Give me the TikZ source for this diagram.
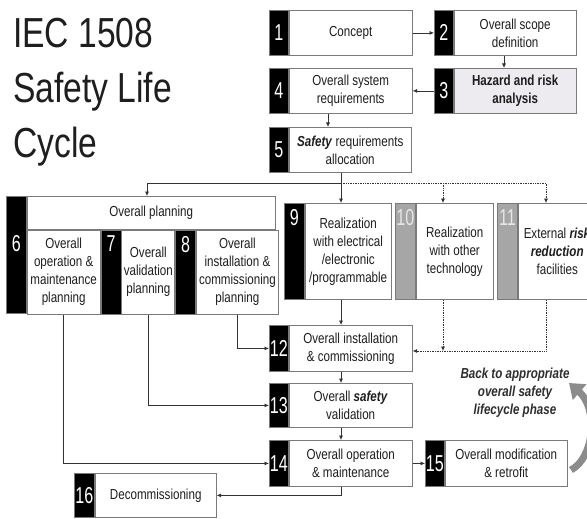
\documentclass[tikz,border=0pt]{standalone}
\usepackage{fontspec}
\setmainfont{Liberation Sans}[FakeStretch=0.8]
\newfontfamily\stripfont{Liberation Sans}[FakeStretch=0.7]
\usetikzlibrary{arrows.meta}

\definecolor{boxgray}{HTML}{7A7A7A}
\definecolor{linegray}{HTML}{333333}
\definecolor{textdark}{HTML}{1E1E1E}
\definecolor{hazfill}{HTML}{EDEBEF}
\definecolor{stripgray}{HTML}{A6A6A6}
\definecolor{numlight}{HTML}{E6E6E6}
\definecolor{backgray}{HTML}{2E2E2E}
\definecolor{arcgray}{HTML}{8C8C8C}

\newcommand{\phasefont}{\fontsize{14.5}{18}\selectfont}
\newcommand{\numberfont}{\stripfont\fontsize{23}{23}\selectfont}

\tikzset{
  phase/.style={draw=boxgray, line width=0.8pt, fill=white, align=center,
    inner sep=1pt, font=\phasefont, text=textdark, anchor=west},
  strip/.style={draw=boxgray, line width=0.8pt, fill=black, text=white,
    inner sep=0pt, font=\numberfont, anchor=north west},
  greystrip/.style={strip, fill=stripgray, text=numlight},
  numtop/.style={anchor=north, inner sep=0pt, font=\numberfont, text=white},
  conn/.style={draw=linegray, line width=0.7pt, -{Latex[length=4.5pt,width=4pt]}},
  dconn/.style={conn, densely dotted},
}

\begin{document}
\begin{tikzpicture}[x=1pt, y=-1pt]
\useasboundingbox (0,0) rectangle (587,519);
\fill[white] (0,0) rectangle (587,519);
\clip (0,0) rectangle (587,519);

% title
\node[anchor=north west, inner sep=0pt, align=left, text=textdark,
  font=\fontsize{42}{55}\selectfont] (title) at (13,18)
  {IEC 1508\\Safety Life\\Cycle};

% phases 1 - 5
\node[strip, minimum width=19, minimum height=45] (s1) at (269,10) {1};
\node[phase, minimum width=123, minimum height=45] (p1) at (s1.east) {Concept};
\node[strip, minimum width=19, minimum height=45] (s2) at (434,10) {2};
\node[phase, minimum width=122, minimum height=45] (p2) at (s2.east) {Overall scope\\definition};
\node[strip, minimum width=19, minimum height=45] (s3) at (434,68) {3};
\node[phase, fill=hazfill, minimum width=122, minimum height=45] (p3) at (s3.east)
  {\textbf{Hazard and risk}\\\textbf{analysis}};
\node[strip, minimum width=19, minimum height=45] (s4) at (269,68) {4};
\node[phase, minimum width=123, minimum height=45] (p4) at (s4.east) {Overall system\\requirements};
\node[strip, minimum width=19, minimum height=45] (s5) at (269,127) {5};
\node[phase, minimum width=122, minimum height=45] (p5) at (s5.east)
  {\textbf{\textit{Safety}} requirements\\allocation};

% overall planning 6 - 8
\node[strip, minimum width=20, minimum height=117, label={[numtop, yshift=-39pt]north:6}] (s6) at (6,196) {};
\node[phase, anchor=north west, minimum width=248, minimum height=33] (hdr) at (s6.north east) {Overall planning};
\node[phase, anchor=north west, minimum width=73, minimum height=84] (p6) at (hdr.south west)
  {Overall\\operation \&\\maintenance\\planning};
\node[strip, minimum width=20, minimum height=84, label={[numtop, yshift=-6pt]north:7}] (s7) at (p6.north east) {};
\node[phase, minimum width=53, minimum height=84] (p7) at (s7.east) {Overall\\validation\\planning};
\node[strip, minimum width=20, minimum height=84, label={[numtop, yshift=-6pt]north:8}] (s8) at (p7.north east) {};
\node[phase, minimum width=82, minimum height=84] (p8) at (s8.east)
  {Overall\\installation \&\\commissioning\\planning};

% realization 9 - 11
\node[strip, minimum width=20, minimum height=96, label={[numtop, yshift=-6pt]north:9}] (s9) at (284,203) {};
\node[phase, minimum width=86, minimum height=96] (p9) at (s9.east)
  {Realization\\with electrical\\/electronic\\/programmable};
\node[greystrip, minimum width=20, minimum height=96, label={[numtop, yshift=-6pt, text=numlight]north:10}] (s10) at (395,203) {};
\node[phase, minimum width=77, minimum height=96] (p10) at (s10.east)
  {Realization\\with other\\technology};
\node[greystrip, minimum width=20, minimum height=96, label={[numtop, yshift=-6pt, text=numlight]north:11}] (s11) at (497,203) {};
\node[phase, minimum width=78, minimum height=96] (p11) at (s11.east)
  {External \textbf{\textit{risk}}\\\textbf{\textit{reduction}}\\facilities};

% phases 12 - 16
\node[strip, minimum width=19, minimum height=46] (s12) at (269,325) {12};
\node[phase, minimum width=123, minimum height=46] (p12) at (s12.east) {Overall installation\\\& commissioning};
\node[strip, minimum width=19, minimum height=44] (s13) at (269,383) {13};
\node[phase, minimum width=123, minimum height=44] (p13) at (s13.east) {Overall \textbf{\textit{safety}}\\validation};
\node[strip, minimum width=19, minimum height=46] (s14) at (269,440) {14};
\node[phase, minimum width=123, minimum height=46] (p14) at (s14.east) {Overall operation\\\& maintenance};
\node[strip, minimum width=19, minimum height=46] (s15) at (425,440) {15};
\node[phase, minimum width=122, minimum height=46] (p15) at (s15.east) {Overall modification\\\& retrofit};
\node[strip, minimum width=20, minimum height=44] (s16) at (74,473) {16};
\node[phase, minimum width=121, minimum height=44] (p16) at (s16.east) {Decommissioning};

\node[font=\phasefont\bfseries\itshape, text=backgray, align=center] (back) at (515,393)
  {Back to appropriate\\overall safety\\lifecycle phase};

% helper points
\coordinate (mid23) at (504,0);
\coordinate (c45) at (328,0);
\coordinate (fork) at (341,183);
\coordinate (fork6) at (147,183);
\coordinate (fork10) at (443,183);
\coordinate (fork11) at (546,183);
\coordinate (dj) at (546,351);

% connectors
\draw[conn] (p1.east) -- (s2.west);
\draw[conn] (p2.south -| mid23) -- (p3.north -| mid23);
\draw[conn] (s3.west) -- (p4.east);
\draw[conn] (p4.south -| c45) -- (p5.north -| c45);
\draw[draw=linegray, line width=0.7pt] (p5.south -| fork) -- (fork);
\draw[conn] (fork) -- (fork6) -- (fork6 |- hdr.north);
\draw[conn] (fork) -- (fork |- p9.north);
\draw[dconn] (fork) -- (fork11) -- (fork11 |- p11.north);
\draw[dconn] (fork10) -- (fork10 |- p10.north);
\draw[conn] (p9.south -| fork) -- (p12.north -| fork);
\draw[dconn] (p11.south -| dj) -- (dj) -- (dj -| p12.east);
\draw[dconn] (p10.south -| fork10) -- (fork10 |- dj);
\draw[conn] (p12.south -| fork) -- (p13.north -| fork);
\draw[conn] (p13.south -| fork) -- (p14.north -| fork);
\draw[conn] (p14.east) -- (s15.west);
\draw[conn] (p14.south -| fork) |- (p16.east);
\draw[conn] (p8.south) |- (s12.west);
\draw[conn] (p7.south) |- (s13.west);
\draw[conn] (p6.south) |- (s14.west);

% curved return arrow
\draw[arcgray, line width=7pt, -{Triangle[length=14pt,width=20pt]}]
  (571,470) .. controls (595,457) and (598,408) .. (569,383);
\end{tikzpicture}
\end{document}
